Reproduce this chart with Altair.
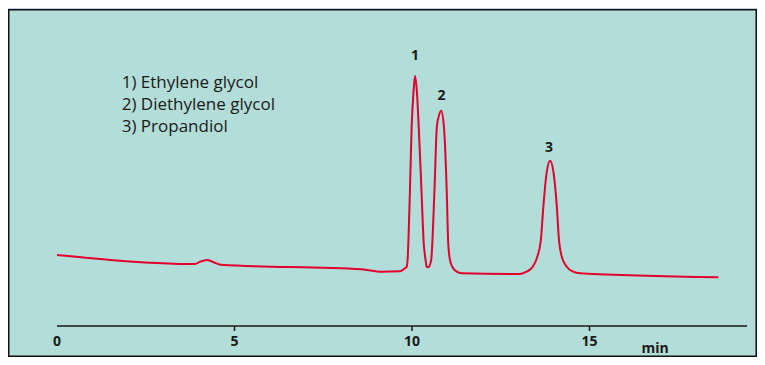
import altair as alt
import pandas as pd

# ---- data ----
time_min = [0.0, 3.89, 4.03, 4.23, 4.40, 4.61, 8.58, 9.15, 9.66, 9.80, 9.85, 9.875,
            9.94, 9.99, 10.04, 10.085, 10.14, 10.19, 10.27, 10.33, 10.37, 10.39,
            10.41, 10.46, 10.54, 10.63, 10.70, 10.75, 10.82, 10.90, 10.98, 11.02,
            11.07, 11.14, 11.26, 11.40, 13.04, 13.23, 13.40, 13.53, 13.63, 13.70,
            13.79, 13.89, 13.99, 14.08, 14.14, 14.22, 14.36, 14.54, 14.73, 18.63]
signal = [45, 36, 38.3, 40, 38, 35.3, 30.7, 28.3, 28.7, 31.7, 33.3, 40,
          107, 173, 207, 224, 207, 173, 107, 57, 43, 38,
          33.3, 32.7, 40, 107, 173, 183, 189.3, 173, 107, 57,
          40, 33, 28.3, 26.7, 26, 28.3, 33.3, 43.3, 60, 93.3,
          126.7, 139.3, 126.7, 93.3, 60, 43.3, 33.3, 28.3, 26.7, 22.7]

peak_labels = ["1", "2", "3"]
peak_time = [10.085, 10.83, 13.86]
peak_height = [224, 189.3, 139.3]
label_gap = [20, 15, 13]

compounds = ["1) Ethylene glycol", "2) Diethylene glycol", "3) Propandiol"]
tick_values = [0, 5, 10, 15]
marked_ticks = [5, 10, 15]
axis_start, axis_end = 0, 19.44
axis_unit = "min"
unit_pos = 16.85

# ---- styling ----
TEAL = "#b3ddd8"
LAVENDER = "#c6d0ea"
RED = "#e2002d"
INK = "#1a1a1a"
FONT = "Open Sans"

W, H = 749, 317
x_dom = [-1.3803, 19.7183]
y_dom = [-26, 291]

trace = pd.DataFrame({"time": time_min, "signal": signal})
peaks = pd.DataFrame({
    "time": peak_time,
    "label": peak_labels,
    "ypos": [h + g for h, g in zip(peak_height, label_gap)],
})
legend = pd.DataFrame({"txt": ["\n".join(compounds)]})
ticks = pd.DataFrame({"tick": marked_ticks})
tick_labels = pd.DataFrame({"tick": tick_values, "txt": [str(v) for v in tick_values]})
axis_df = pd.DataFrame({"start": [axis_start], "end": [axis_end],
                        "unit": [axis_unit], "upos": [unit_pos]})

xs = alt.Scale(domain=x_dom, nice=False, zero=False)
ys = alt.Scale(domain=y_dom, nice=False, zero=False)

panel = alt.Chart(legend).mark_rect(
    fill=TEAL, stroke="#111111", strokeWidth=1.5
).encode(
    x=alt.value(0.75), x2=alt.value(W - 0.75),
    y=alt.value(0.75), y2=alt.value(347.25),
)

line = alt.Chart(trace).mark_line(
    color=RED, strokeWidth=2, interpolate="monotone"
).encode(
    x=alt.X("time:Q", scale=xs, axis=None),
    y=alt.Y("signal:Q", scale=ys, axis=None),
)

axis_line = alt.Chart(axis_df).mark_rule(color=INK, strokeWidth=1.5).encode(
    x=alt.X("start:Q", axis=None),
    x2="end:Q",
    y=alt.value(H),
)

tick_marks = alt.Chart(ticks).mark_rule(color=INK, strokeWidth=1.5).encode(
    x=alt.X("tick:Q", axis=None),
    y=alt.value(H),
    y2=alt.value(H + 5),
)

tick_text = alt.Chart(tick_labels).mark_text(
    font=FONT, fontWeight="bold", fontSize=14, color=INK,
    align="center", baseline="alphabetic",
).encode(
    x=alt.X("tick:Q", axis=None),
    y=alt.value(H + 20.3),
    text="txt:N",
)

unit_text = alt.Chart(axis_df).mark_text(
    font=FONT, fontWeight="bold", fontSize=14, color=INK,
    align="center", baseline="alphabetic",
).encode(
    x=alt.X("upos:Q", axis=None),
    y=alt.value(H + 26.5),
    text="unit:N",
)

labels = alt.Chart(peaks).mark_text(
    font=FONT, fontWeight="bold", fontSize=14, color=INK,
    align="center", baseline="middle",
).encode(
    x=alt.X("time:Q", axis=None),
    y=alt.Y("ypos:Q", axis=None),
    text="label:N",
)

legend_text = alt.Chart(legend).mark_text(
    font=FONT, fontSize=17, color=INK, align="left", baseline="alphabetic",
    lineBreak="\n", lineHeight=21.7,
).encode(
    x=alt.value(113.7),
    y=alt.value(79.3),
    text="txt:N",
)

chart = alt.layer(panel, axis_line, tick_marks, tick_text, unit_text,
                  line, labels, legend_text).properties(
    width=W, height=H,
    autosize=alt.AutoSizeParams(type="none"),
    padding={"left": 0, "top": 1, "right": 0, "bottom": 31},
    background=LAVENDER,
).configure_view(
    strokeWidth=0,
)

chart.save("out.html", embed_options={"renderer": "svg", "actions": False})
